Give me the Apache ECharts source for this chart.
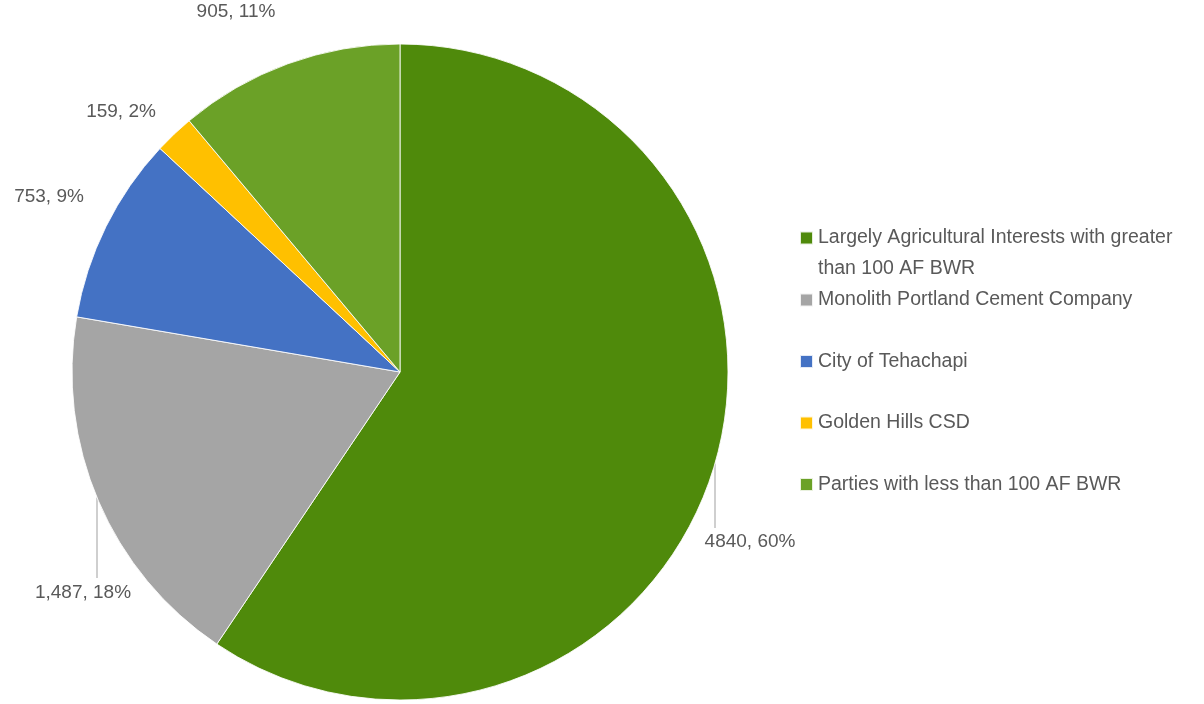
<!DOCTYPE html>
<html>
<head>
<meta charset="utf-8">
<script src="https://cdn.jsdelivr.net/npm/echarts@6/dist/echarts.min.js"></script>
<style>
html,body{margin:0;padding:0;background:#fff;}
#c{width:1204px;height:704px;}
</style>
</head>
<body>
<div id="c"></div>
<script>
// ---- data ----
const categories = [
  'Largely Agricultural Interests with greater than 100 AF BWR',
  'Monolith Portland Cement Company',
  'City of Tehachapi',
  'Golden Hills CSD',
  'Parties with less than 100 AF BWR'
];
const values = [4840, 1487, 753, 159, 905];
const labelTexts = ['4840, 60%', '1,487, 18%', '753, 9%', '159, 2%', '905, 11%'];
const legendLine1 = 'Largely Agricultural Interests with greater';
const legendLine2 = 'than 100 AF BWR';
const colors = ['#4F8A0B', '#A5A5A5', '#4472C4', '#FFC000', '#6BA127'];

// ---- layout ----
const CX = 400, CY = 372, R = 328;
const labelPos = [[750, 542], [83, 593], [49, 197], [121, 112], [236, 12]];
const lineX = {0: [715, 528], 1: [97, 578]};

const chart = echarts.init(document.getElementById('c'), null, {renderer: 'canvas'});

const data = categories.map((n, i) => ({
  name: n,
  value: values[i],
  itemStyle: {color: colors[i]},
  labelLine: {show: i in lineX}
}));

const textColor = '#595959';
const font = 'Liberation Sans, Arial, sans-serif';
const legendText = {color: textColor, fontSize: 19.5, fontFamily: font, lineHeight: 28};

chart.setOption({
  animation: false,
  legend: [
    {
      data: [categories[0]],
      orient: 'vertical',
      left: 799, top: 224,
      padding: 0,
      itemWidth: 13, itemHeight: 13,
      icon: 'rect',
      formatter: () => legendLine1,
      textStyle: legendText
    },
    {
      data: categories.slice(1),
      orient: 'vertical',
      left: 799, top: 286,
      padding: 0,
      itemGap: 33.5,
      itemWidth: 13, itemHeight: 13,
      icon: 'rect',
      textStyle: legendText
    }
  ],
  graphic: [{
    type: 'text',
    left: 818, top: 255,
    style: {text: legendLine2, fill: textColor, fontSize: 19.5, fontFamily: font, lineHeight: 28}
  }],
  series: [{
    type: 'pie',
    center: [CX, CY],
    radius: R,
    startAngle: 90,
    clockwise: true,
    data: data,
    itemStyle: {borderColor: 'rgba(255,255,255,0.85)', borderWidth: 1},
    label: {
      show: true,
      position: 'outside',
      formatter: p => labelTexts[p.dataIndex],
      color: textColor,
      fontSize: 19,
      fontFamily: font,
      overflow: 'none',
      width: 200
    },
    labelLine: {lineStyle: {color: '#BFBFBF', width: 1.5}, length: 10, length2: 10},
    labelLayout: function (p) {
      const i = p.dataIndex;
      const pos = labelPos[i];
      const out = {x: pos[0], y: pos[1], align: 'center', verticalAlign: 'middle'};
      if (i in lineX) {
        const lx = lineX[i][0];
        const dy = Math.sqrt(R * R - (lx - CX) * (lx - CX));
        out.labelLinePoints = [[lx, CY + dy], [lx, lineX[i][1]], [lx, lineX[i][1]]];
      }
      return out;
    },
    emphasis: {disabled: true}
  }]
});
</script>
</body>
</html>
